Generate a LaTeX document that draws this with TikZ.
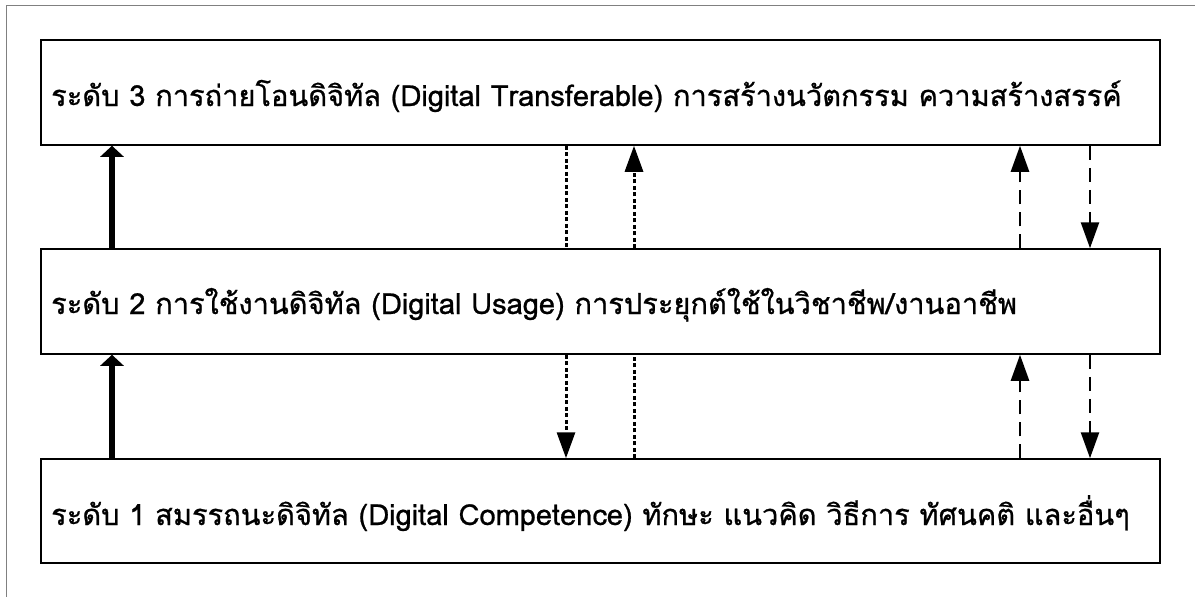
\documentclass[tikz,border=0pt]{standalone}
\usepackage{fontspec}
\usetikzlibrary{arrows.meta}
\newfontfamily\thaifont[Script=Thai,FakeBold=0.8]{Loma}
\tikzset{
  level/.style={draw=black, line width=1.5pt, fill=white, minimum width=1119pt, inner sep=0pt},
  leveltext/.style={anchor=base west, inner sep=0pt, font=\thaifont\fontsize{29}{35}\selectfont},
  boldarrow/.style={line width=6pt, -{Triangle[length=11pt,width=23pt]}},
  dotline/.style={line width=3pt, dash pattern=on 4pt off 2.5pt},
  dotarrow/.style={dotline, -{Triangle[length=26pt,width=18pt]}},
  dashline/.style={line width=2.5pt, dash pattern=on 14pt off 8pt},
  dasharrow/.style={dashline, -{Triangle[length=26pt,width=18pt]}},
  frameline/.style={draw=gray, line width=1pt}
}
\begin{document}
\begin{tikzpicture}[x=1pt,y=-1pt]
\useasboundingbox (0,0) rectangle (1195,597);
\coordinate (fa) at (6.5,597);
\coordinate (fb) at (6.5,5);
\coordinate (fc) at (1195,5);
\draw[frameline] (fa) -- (fb) -- (fc);
\node[level, minimum height=105pt] (l3) at (600.5,92.5) {};
\node[level, minimum height=105pt] (l2) at (600.5,301.5) {};
\node[level, minimum height=104pt] (l1) at (600.5,511) {};
\node[leveltext] (t3) at (51,106) {ระดับ 3 การถ่ายโอนดิจิทัล (Digital Transferable) การสร้างนวัตกรรม ความสร้างสรรค์};
\node[leveltext] (t2) at (51,314) {ระดับ 2 การใช้งานดิจิทัล (Digital Usage) การประยุกต์ใช้ในวิชาชีพ/งานอาชีพ};
\node[leveltext] (t1) at (51,525) {ระดับ 1 สมรรถนะดิจิทัล (Digital Competence) ทักษะ แนวคิด วิธีการ ทัศนคติ และอื่นๆ};
\coordinate (xa) at (112,0);
\coordinate (xb) at (566,0);
\coordinate (xc) at (634,0);
\coordinate (xd) at (1020,0);
\coordinate (xe) at (1090,0);
\draw[boldarrow] (xa |- l2.north) -- (xa |- l3.south);
\draw[boldarrow] (xa |- l1.north) -- (xa |- l2.south);
\draw[dotline] (xb |- l3.south) -- (xb |- l2.north);
\draw[dotarrow] (xb |- l2.south) -- (xb |- l1.north);
\draw[dotline] (xc |- l1.north) -- (xc |- l2.south);
\draw[dotarrow] (xc |- l2.north) -- (xc |- l3.south);
\draw[dasharrow] (xd |- l2.north) -- (xd |- l3.south);
\draw[dasharrow] (xd |- l1.north) -- (xd |- l2.south);
\draw[dasharrow] (xe |- l3.south) -- (xe |- l2.north);
\draw[dasharrow] (xe |- l2.south) -- (xe |- l1.north);
\end{tikzpicture}
\end{document}
